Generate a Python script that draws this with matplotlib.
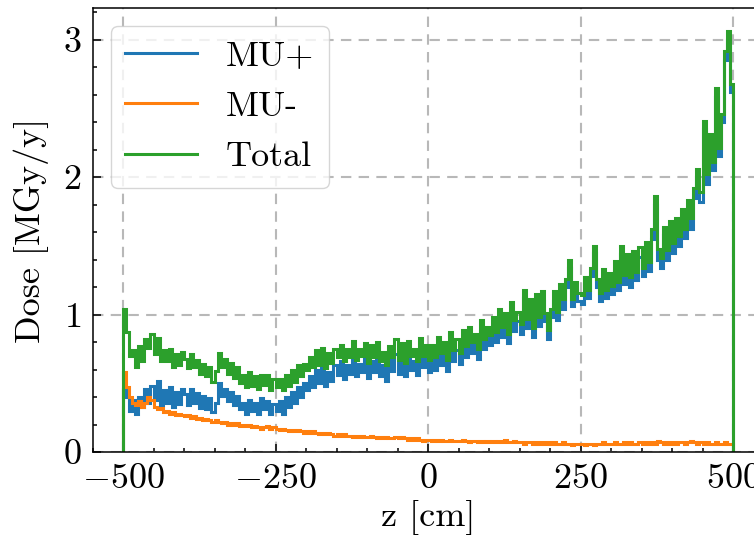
import numpy as np
import matplotlib
matplotlib.use("Agg")
import matplotlib.pyplot as plt
from matplotlib.ticker import MultipleLocator

# bins de 5 cm entre -500 e 500 cm
z_edges = np.arange(-500, 505, 5)

mu_minus = [
    0.58, 0.47, 0.40, 0.36, 0.34, 0.37, 0.33, 0.36, 0.40, 0.38,
    0.33, 0.31, 0.32, 0.29, 0.30, 0.28, 0.29, 0.27, 0.28, 0.27,
    0.26, 0.27, 0.25, 0.26, 0.24, 0.25, 0.23, 0.24, 0.23, 0.22,
    0.23, 0.22, 0.21, 0.22, 0.20, 0.21, 0.20, 0.21, 0.19, 0.20,
    0.19, 0.20, 0.18, 0.19, 0.18, 0.17, 0.18, 0.19, 0.17, 0.18,
    0.17, 0.16, 0.17, 0.16, 0.15, 0.16, 0.15, 0.16, 0.15, 0.14,
    0.15, 0.14, 0.15, 0.14, 0.13, 0.14, 0.13, 0.14, 0.13, 0.12,
    0.13, 0.12, 0.13, 0.12, 0.12, 0.11, 0.12, 0.11, 0.12, 0.11,
    0.11, 0.12, 0.11, 0.10, 0.11, 0.10, 0.11, 0.10, 0.10, 0.11,
    0.10, 0.11, 0.10, 0.09, 0.10, 0.09, 0.10, 0.09, 0.08, 0.09,
    0.09, 0.08, 0.09, 0.08, 0.09, 0.08, 0.08, 0.09, 0.08, 0.08,
    0.08, 0.09, 0.08, 0.07, 0.08, 0.08, 0.07, 0.08, 0.07, 0.08,
    0.07, 0.08, 0.07, 0.08, 0.07, 0.09, 0.07, 0.07, 0.08, 0.07,
    0.07, 0.06, 0.07, 0.07, 0.06, 0.07, 0.06, 0.07, 0.06, 0.07,
    0.06, 0.07, 0.06, 0.06, 0.07, 0.06, 0.06, 0.05, 0.06, 0.06,
    0.06, 0.05, 0.06, 0.06, 0.05, 0.06, 0.06, 0.07, 0.06, 0.06,
    0.06, 0.07, 0.06, 0.06, 0.07, 0.06, 0.07, 0.06, 0.06, 0.07,
    0.06, 0.07, 0.06, 0.07, 0.06, 0.08, 0.07, 0.06, 0.07, 0.06,
    0.07, 0.06, 0.07, 0.07, 0.06, 0.07, 0.08, 0.07, 0.06, 0.07,
    0.06, 0.07, 0.06, 0.06, 0.07, 0.06, 0.06, 0.07, 0.06, 0.06,
]

mu_plus = [
    0.46, 0.40, 0.30, 0.38, 0.28, 0.40, 0.33, 0.46, 0.36, 0.48,
    0.38, 0.52, 0.34, 0.45, 0.36, 0.47, 0.33, 0.44, 0.35, 0.46,
    0.42, 0.34, 0.46, 0.36, 0.43, 0.32, 0.41, 0.31, 0.39, 0.29,
    0.36, 0.50, 0.41, 0.46, 0.37, 0.44, 0.34, 0.41, 0.31, 0.36,
    0.28, 0.38, 0.30, 0.36, 0.28, 0.39, 0.31, 0.37, 0.28, 0.35,
    0.30, 0.37, 0.28, 0.40, 0.33, 0.44, 0.36, 0.47, 0.40, 0.50,
    0.45, 0.55, 0.47, 0.60, 0.50, 0.62, 0.48, 0.58, 0.52, 0.63,
    0.56, 0.66, 0.53, 0.63, 0.57, 0.70, 0.55, 0.64, 0.58, 0.68,
    0.54, 0.66, 0.58, 0.70, 0.55, 0.63, 0.52, 0.67, 0.59, 0.71,
    0.57, 0.68, 0.55, 0.72, 0.60, 0.66, 0.56, 0.74, 0.62, 0.69,
    0.58, 0.70, 0.60, 0.76, 0.63, 0.72, 0.59, 0.78, 0.66, 0.74,
    0.64, 0.80, 0.69, 0.84, 0.72, 0.78, 0.68, 0.88, 0.75, 0.83,
    0.78, 0.90, 0.80, 0.96, 0.84, 0.92, 0.79, 1.02, 0.88, 0.95,
    0.86, 1.12, 0.90, 1.04, 0.84, 1.08, 0.92, 1.10, 0.95, 0.82,
    0.98, 1.10, 0.96, 1.16, 1.04, 1.20, 1.34, 1.06, 1.18, 1.10,
    1.08, 1.22, 1.12, 1.28, 1.45, 1.20, 1.10, 1.26, 1.12, 1.24,
    1.15, 1.32, 1.18, 1.44, 1.22, 1.38, 1.20, 1.40, 1.25, 1.42,
    1.28, 1.46, 1.32, 1.55, 1.80, 1.40, 1.34, 1.58, 1.40, 1.62,
    1.45, 1.64, 1.50, 1.70, 1.56, 1.76, 1.62, 1.85, 2.00, 1.82,
    2.35, 1.95, 2.25, 2.05, 2.58, 2.15, 2.40, 2.85, 3.00, 2.62,
]

total = [
    1.04, 0.87, 0.70, 0.74, 0.62, 0.77, 0.66, 0.82, 0.76, 0.86,
    0.71, 0.83, 0.66, 0.74, 0.66, 0.75, 0.62, 0.71, 0.63, 0.73,
    0.68, 0.61, 0.71, 0.62, 0.67, 0.57, 0.64, 0.55, 0.62, 0.51,
    0.59, 0.72, 0.62, 0.68, 0.57, 0.65, 0.54, 0.62, 0.50, 0.56,
    0.47, 0.58, 0.48, 0.55, 0.46, 0.56, 0.49, 0.56, 0.45, 0.53,
    0.47, 0.53, 0.45, 0.56, 0.48, 0.60, 0.51, 0.63, 0.55, 0.64,
    0.60, 0.69, 0.62, 0.74, 0.63, 0.76, 0.61, 0.72, 0.65, 0.75,
    0.69, 0.78, 0.66, 0.75, 0.69, 0.81, 0.67, 0.75, 0.70, 0.79,
    0.65, 0.78, 0.69, 0.80, 0.66, 0.73, 0.63, 0.77, 0.69, 0.82,
    0.67, 0.79, 0.65, 0.81, 0.70, 0.75, 0.66, 0.83, 0.70, 0.78,
    0.67, 0.78, 0.69, 0.84, 0.72, 0.80, 0.67, 0.87, 0.74, 0.82,
    0.72, 0.89, 0.77, 0.91, 0.80, 0.86, 0.75, 0.96, 0.82, 0.91,
    0.85, 0.98, 0.87, 1.04, 0.91, 1.01, 0.86, 1.09, 0.96, 1.02,
    0.93, 1.18, 0.97, 1.11, 0.90, 1.15, 0.98, 1.17, 1.01, 0.89,
    1.04, 1.17, 1.02, 1.22, 1.11, 1.26, 1.40, 1.11, 1.24, 1.16,
    1.14, 1.27, 1.18, 1.34, 1.50, 1.26, 1.16, 1.33, 1.18, 1.30,
    1.21, 1.39, 1.24, 1.50, 1.29, 1.44, 1.27, 1.46, 1.31, 1.49,
    1.34, 1.53, 1.38, 1.62, 1.86, 1.48, 1.41, 1.64, 1.47, 1.68,
    1.52, 1.70, 1.57, 1.77, 1.62, 1.83, 1.70, 1.92, 2.06, 1.89,
    2.41, 2.02, 2.31, 2.11, 2.65, 2.21, 2.46, 2.92, 3.06, 2.68,
]

plt.rcParams["font.family"] = "serif"
plt.rcParams["font.serif"] = ["cmr10"]
plt.rcParams["mathtext.fontset"] = "cm"
plt.rcParams["axes.formatter.use_mathtext"] = True
plt.rcParams["font.size"] = 26

fig = plt.figure(figsize=(7.54, 5.40), dpi=100)
ax = fig.add_axes([92.5 / 754, 88 / 540, 671 / 754, 444 / 540])

ax.stairs(mu_plus, z_edges, label="MU+", color="tab:blue", linewidth=2.2)
ax.stairs(mu_minus, z_edges, label="MU-", color="tab:orange", linewidth=2.2)
ax.stairs(total, z_edges, label="Total", color="tab:green", linewidth=2.2)

ax.set_xlim(-550, 550)
ax.set_ylim(0, 3.23)
ax.xaxis.set_major_locator(MultipleLocator(250))
ax.xaxis.set_minor_locator(MultipleLocator(50))
ax.yaxis.set_major_locator(MultipleLocator(1))
ax.yaxis.set_minor_locator(MultipleLocator(0.2))
ax.tick_params(which="both", direction="in", top=False, right=True, width=1.1)
ax.tick_params(which="major", length=5.5, pad=8)
ax.tick_params(which="minor", length=3)
for s in ax.spines.values():
    s.set_linewidth(1.1)

ax.grid(True, which="major", linestyle="--", color="0.72", linewidth=1.5, dashes=(5, 3.5))
ax.set_axisbelow(True)

ax.set_xlabel("z [cm]", labelpad=4)
ax.set_ylabel("Dose [MGy/y]", labelpad=10)

ax.legend(loc="upper left", fontsize=26, handlelength=2.0, borderaxespad=0.5)

plt.savefig("out.png", dpi=100)
